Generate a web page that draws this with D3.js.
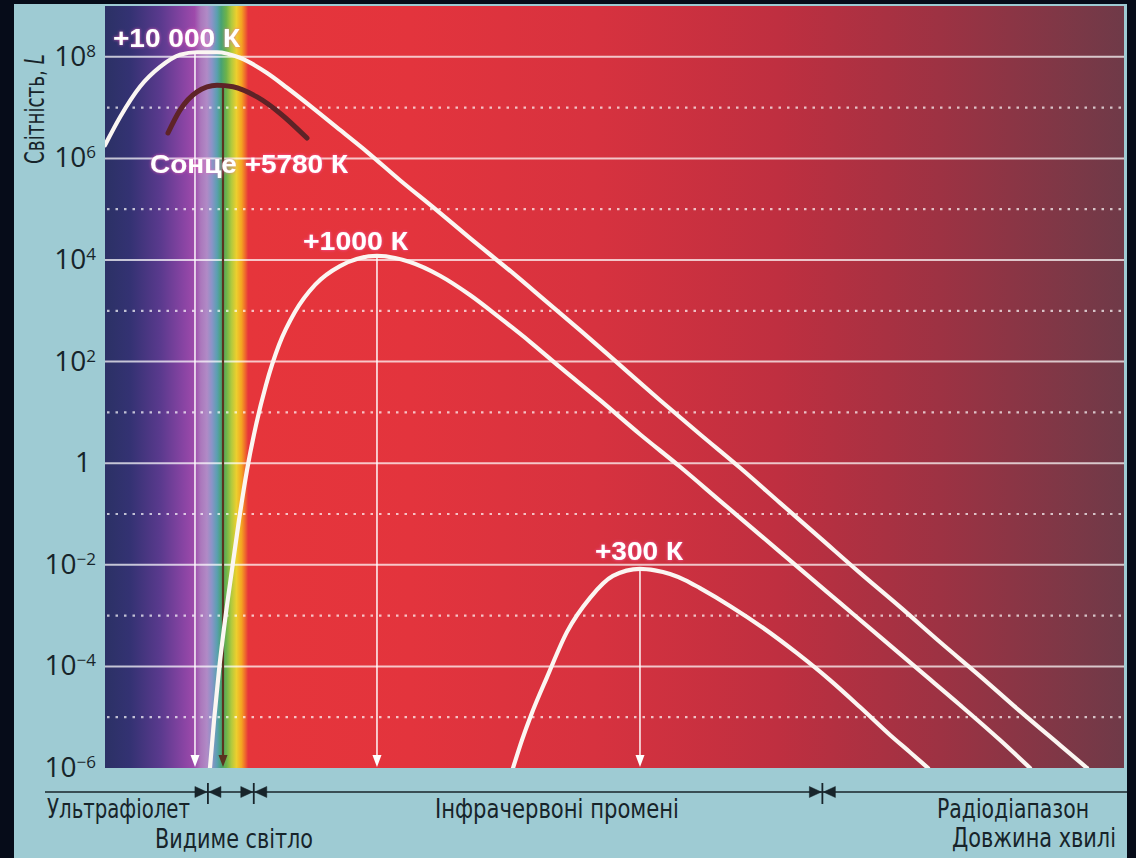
<!DOCTYPE html>
<html>
<head>
<meta charset="utf-8">
<script src="https://cdn.jsdelivr.net/npm/d3@7"></script>
<style>
  html, body { margin: 0; padding: 0; background: #060c19; }
  svg { display: block; }
</style>
</head>
<body>
<svg id="chart" width="1136" height="858"></svg>
<script>
// Wavelength axis is schematic (no ticks): x is given in % of the plot width.
// Luminosity is given as lg L.
const x10000 = [0, 1.47, 3.43, 5.40, 7.36, 9.03, 10.99, 13.25, 15.90, 17.86, 20.41, 23.06, 25.71, 28.95, 32.19, 35.82, 40.04, 43.38, 46.61, 50.54, 54.47, 58.39, 62.32, 66.24, 70.17, 74.09, 78.02, 81.94, 85.87, 89.79, 93.72, 96.37];
const lg10000 = [6.26, 6.81, 7.41, 7.80, 8.04, 8.09, 8.09, 7.98, 7.68, 7.39, 6.99, 6.56, 6.13, 5.57, 5.04, 4.43, 3.74, 3.17, 2.62, 1.93, 1.24, 0.57, -0.09, -0.78, -1.47, -2.16, -2.83, -3.52, -4.19, -4.88, -5.55, -6.00];

const xSun = [6.18, 7.36, 9.03, 10.99, 12.56, 14.92, 17.17, 19.82];
const lgSun = [6.50, 6.95, 7.31, 7.44, 7.41, 7.21, 6.89, 6.40];

const x1000 = [10.30, 10.70, 11.19, 11.78, 12.46, 13.15, 13.94, 14.82, 15.80, 17.08, 18.65, 20.61, 23.06, 26.69, 29.93, 32.88, 35.82, 38.76, 41.71, 44.65, 48.58, 52.50, 56.43, 60.35, 64.28, 68.20, 72.13, 76.06, 79.98, 83.91, 87.83, 90.78];
const lg1000 = [-6.00, -5.06, -4.07, -3.09, -2.10, -1.12, -0.13, 0.75, 1.54, 2.33, 2.98, 3.51, 3.88, 4.08, 3.96, 3.69, 3.31, 2.86, 2.39, 1.89, 1.24, 0.57, -0.07, -0.74, -1.41, -2.08, -2.75, -3.42, -4.09, -4.76, -5.45, -6.00];

const x300 = [40.04, 40.92, 41.81, 43.38, 45.34, 47.60, 49.85, 52.50, 53.97, 55.45, 56.92, 58.39, 61.33, 64.57, 67.91, 71.15, 74.09, 77.04, 79.00, 80.77];
const lg300 = [-6.00, -5.45, -4.96, -4.21, -3.32, -2.65, -2.22, -2.08, -2.11, -2.18, -2.30, -2.46, -2.81, -3.24, -3.74, -4.27, -4.80, -5.35, -5.69, -6.00];

// peak wavelength arrows (10000 K, Sun, 1000 K, 300 K)
const peakX = [8.83, 11.58, 26.69, 52.50];
const peakLg = [8.09, 7.44, 4.08, -2.08];

const majorExp = [8, 6, 4, 2, 0, -2, -4, -6];
const minorExp = [7, 5, 3, 1, -1, -3, -5];

// borders UV|visible, visible|IR, IR|radio
const bandEdgeX = [10.1, 14.6, 70.4];

const svg = d3.select('#chart');
const W = 1136, H = 858;
const plot = { left: 105, right: 1124, top: 6, bottom: 768 };

const x = d3.scaleLinear().domain([0, 100]).range([plot.left, plot.right]);
const y = d3.scaleLog().domain([1e-6, 1e9]).range([plot.bottom, plot.top]);

const toPoints = (xs, lgs) => xs.map((v, i) => ({ x: v, L: Math.pow(10, lgs[i]) }));

const defs = svg.append('defs');

// spectrum / infrared background
const grad = defs.append('linearGradient')
  .attr('id', 'spectrum')
  .attr('gradientUnits', 'userSpaceOnUse')
  .attr('x1', plot.left).attr('x2', plot.right)
  .attr('y1', 0).attr('y2', 0);
[
  [0, '#2b3165'], [0.025, '#343273'], [0.055, '#5b3a8e'], [0.077, '#8844a3'],
  [0.088, '#9e4aab'], [0.094, '#ab78bc'], [0.100, '#b18ac6'], [0.105, '#8a94c8'],
  [0.110, '#5aa0b0'], [0.114, '#48a274'], [0.119, '#6cb24a'], [0.124, '#b0c93e'],
  [0.129, '#eccf2e'], [0.134, '#f4a422'], [0.1375, '#ef6a2c'], [0.1405, '#e6353b'],
  [0.30, '#e3343d'], [0.48, '#d7323f'], [0.66, '#bf2f40'], [0.82, '#9d3243'],
  [1, '#6f3a48']
].forEach(([o, c]) => grad.append('stop').attr('offset', o).attr('stop-color', c));

defs.append('clipPath').attr('id', 'plotClip')
  .append('rect')
  .attr('x', plot.left).attr('y', plot.top)
  .attr('width', plot.right - plot.left).attr('height', plot.bottom - plot.top);

const glow = defs.append('filter').attr('id', 'glow')
  .attr('x', '-10%').attr('y', '-30%').attr('width', '120%').attr('height', '160%');
glow.append('feGaussianBlur').attr('in', 'SourceAlpha').attr('stdDeviation', 1.8).attr('result', 'b');
glow.append('feFlood').attr('flood-color', '#ff5fc0').attr('flood-opacity', 0.8);
glow.append('feComposite').attr('in2', 'b').attr('operator', 'in').attr('result', 'g');
const gm = glow.append('feMerge');
gm.append('feMergeNode').attr('in', 'g');
gm.append('feMergeNode').attr('in', 'SourceGraphic');

// light panel
svg.append('rect')
  .attr('x', 14).attr('y', 4)
  .attr('width', 1113).attr('height', H - 4)
  .attr('fill', '#9ecbd3');

svg.append('rect')
  .attr('x', plot.left).attr('y', plot.top)
  .attr('width', plot.right - plot.left).attr('height', plot.bottom - plot.top)
  .attr('fill', 'url(#spectrum)');

// grid lines
const grid = svg.append('g').attr('clip-path', 'url(#plotClip)');
grid.selectAll('line.major')
  .data(majorExp.filter(e => e > -6))
  .enter().append('line')
  .attr('class', 'major')
  .attr('x1', plot.left).attr('x2', plot.right)
  .attr('y1', d => y(Math.pow(10, d))).attr('y2', d => y(Math.pow(10, d)))
  .attr('stroke', '#ffffff').attr('stroke-opacity', 0.72).attr('stroke-width', 2);
grid.selectAll('line.minor')
  .data(minorExp)
  .enter().append('line')
  .attr('class', 'minor')
  .attr('x1', plot.left + 2).attr('x2', plot.right)
  .attr('y1', d => y(Math.pow(10, d))).attr('y2', d => y(Math.pow(10, d)))
  .attr('stroke', '#ffffff').attr('stroke-opacity', 0.7).attr('stroke-width', 2.2)
  .attr('stroke-dasharray', '2.5,6');

// y tick labels
const yLabels = svg.append('g')
  .attr('font-family', '"Open Sans", "Liberation Sans", sans-serif')
  .attr('fill', '#17242a');
majorExp.forEach(e => {
  const t = yLabels.append('text')
    .attr('x', 96)
    .attr('y', y(Math.pow(10, e)) + 9)
    .attr('text-anchor', 'end')
    .attr('font-size', 28);
  if (e === 0) {
    t.attr('x', 91).text('1');
  } else {
    t.append('tspan').text('10');
    t.append('tspan')
      .attr('font-size', 17)
      .attr('dy', -9)
      .text(e < 0 ? '\u2212' + (-e) : String(e));
  }
});

// y axis title
const yTitle = svg.append('text')
  .attr('transform', 'translate(44,164) rotate(-90)')
  .attr('font-family', '"Liberation Sans Narrow", "DejaVu Sans Condensed", sans-serif')
  .attr('font-size', 26)
  .attr('fill', '#17242a')
  .attr('textLength', 110)
  .attr('lengthAdjust', 'spacingAndGlyphs');
yTitle.append('tspan').text('Світність, ');
yTitle.append('tspan').attr('font-style', 'italic').text('L');

// peak arrows
const arrows = svg.append('g');
peakX.forEach((px, i) => {
  const col = i === 1 ? '#5a3320' : '#ffffff';
  const ax = x(px);
  const y0 = y(Math.pow(10, peakLg[i]));
  arrows.append('line')
    .attr('x1', ax).attr('x2', ax)
    .attr('y1', y0).attr('y2', plot.bottom - 8)
    .attr('stroke', col).attr('stroke-width', i === 1 ? 2.2 : 1.6)
    .attr('stroke-opacity', i === 1 ? 1 : 0.9);
  arrows.append('path')
    .attr('d', `M${ax - 4.5},${plot.bottom - 13} L${ax + 4.5},${plot.bottom - 13} L${ax},${plot.bottom - 1} Z`)
    .attr('fill', col);
});

// curves
const line = d3.line()
  .x(d => x(d.x))
  .y(d => y(d.L))
  .curve(d3.curveMonotoneX);

const curves = svg.append('g').attr('clip-path', 'url(#plotClip)').attr('fill', 'none');
curves.append('path')
  .datum(toPoints(xSun, lgSun))
  .attr('d', line)
  .attr('stroke', '#5e2327').attr('stroke-width', 5).attr('stroke-linecap', 'round');
[[x10000, lg10000], [x1000, lg1000], [x300, lg300]].forEach(([xs, lgs]) => {
  curves.append('path')
    .datum(toPoints(xs, lgs))
    .attr('d', line)
    .attr('stroke', '#fbf6f2').attr('stroke-width', 4.2).attr('stroke-linecap', 'round');
});

// temperature labels
const tempLabels = [
  { text: '+10 000 К', x: 113, y: 47, w: 127 },
  { text: 'Сонце +5780 К', x: 150, y: 173, w: 198 },
  { text: '+1000 К', x: 303, y: 250, w: 105 },
  { text: '+300 К', x: 595, y: 560, w: 88 }
];
svg.append('g')
  .selectAll('text')
  .data(tempLabels)
  .enter().append('text')
  .attr('x', d => d.x).attr('y', d => d.y)
  .attr('textLength', d => d.w)
  .attr('lengthAdjust', 'spacingAndGlyphs')
  .attr('font-family', '"Liberation Sans", Arial, sans-serif')
  .attr('font-weight', 'bold')
  .attr('font-size', 26)
  .attr('fill', '#ffffff')
  .attr('filter', 'url(#glow)')
  .text(d => d.text);

// band axis
const axisY = 792;
svg.append('line')
  .attr('x1', 45).attr('x2', 1127)
  .attr('y1', axisY).attr('y2', axisY)
  .attr('stroke', '#17242a').attr('stroke-width', 1.5);

const marks = svg.append('g').attr('fill', '#17242a').attr('stroke', '#17242a');
bandEdgeX.forEach(b => {
  const bx = x(b);
  marks.append('path')
    .attr('d', `M${bx - 13},${axisY - 5.5} L${bx - 1},${axisY} L${bx - 13},${axisY + 5.5} Z` +
               `M${bx + 13},${axisY - 5.5} L${bx + 1},${axisY} L${bx + 13},${axisY + 5.5} Z`)
    .attr('stroke-width', 0.5);
  marks.append('line')
    .attr('x1', bx).attr('x2', bx)
    .attr('y1', axisY - 9).attr('y2', axisY + 12)
    .attr('stroke-width', 1.8);
});

const bandLabels = [
  { text: 'Ультрафіолет', x: 47, y: 818, w: 143 },
  { text: 'Видиме світло', x: 155, y: 848, w: 158 },
  { text: 'Інфрачервоні промені', x: 435, y: 818, w: 244 },
  { text: 'Радіодіапазон', x: 937, y: 818, w: 152 },
  { text: 'Довжина хвилі', x: 952, y: 847, w: 164 }
];
svg.append('g')
  .selectAll('text')
  .data(bandLabels)
  .enter().append('text')
  .attr('x', d => d.x).attr('y', d => d.y)
  .attr('textLength', d => d.w)
  .attr('lengthAdjust', 'spacingAndGlyphs')
  .attr('font-family', '"Liberation Sans Narrow", "DejaVu Sans Condensed", sans-serif')
  .attr('font-size', 26)
  .attr('fill', '#17242a')
  .text(d => d.text);
</script>
</body>
</html>
